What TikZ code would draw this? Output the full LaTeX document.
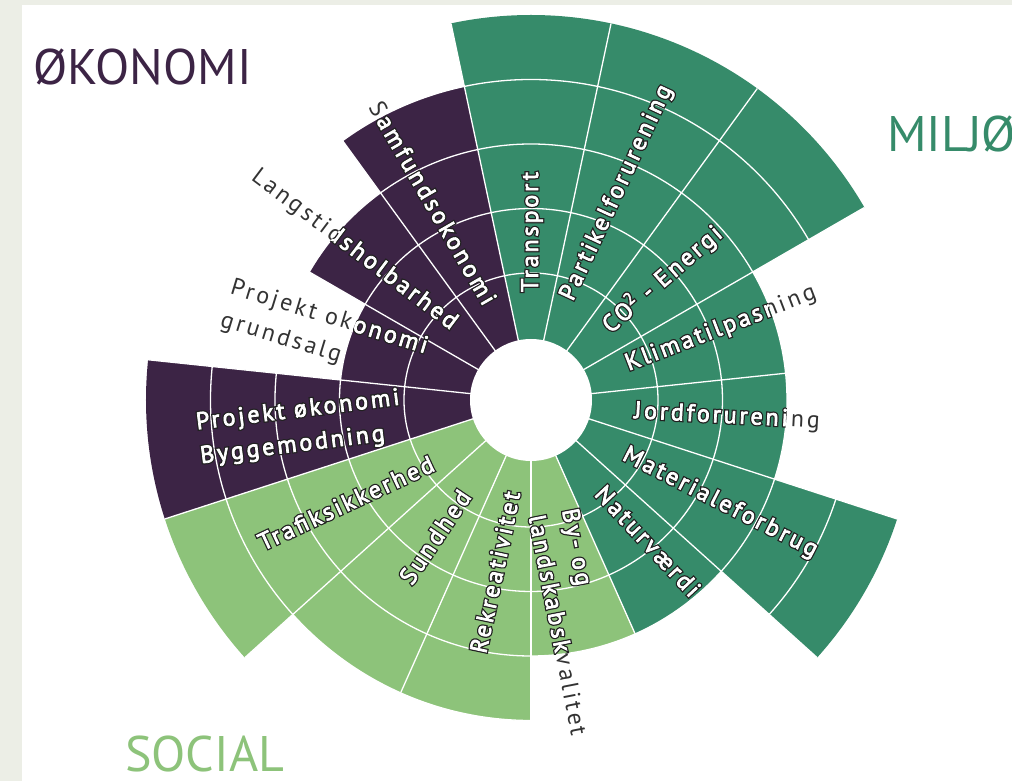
\documentclass[tikz,border=0pt]{standalone}
\usepackage{fontspec}
\setmainfont{PT Sans}
\newfontfamily\lblfont[LetterSpace=12]{PT Sans}
\newfontfamily\lblboldfont[LetterSpace=12, FakeBold=3]{PT Sans}
\newfontfamily\ttlfont{PT Sans}
\definecolor{frame}{HTML}{ECEEE6}
\definecolor{econ}{HTML}{3C2445}
\definecolor{envg}{HTML}{368B6A}
\definecolor{socg}{HTML}{8DC37A}
\definecolor{txt}{HTML}{333333}
\newcommand\plainw[1]{#1}
% stroke-only copy of a text (dark outline)
\newcommand\strokew[1]{\special{pdf:literal direct 1 Tr 3.2 w 0.13 0.13 0.13 RG}#1\special{pdf:literal direct 0 Tr}}
\newcommand\putlabels[3]{%
  \node[#1, rotate=90]  (transport#2) at (1,168)     {#3{Transport}};
  \node[#1, rotate=65]  (partikel#2)  at (86,207)    {#3{Partikelforurening}};
  \node[#1, rotate=41]  (co2#2)       at (131,121)   {#3{CO\textsuperscript{2} - Energi}};
  \node[#1, rotate=21]  (klima#2)     at (190,71)    {#3{Klimatilpasning}};
  \node[#1, rotate=-3]  (jord#2)      at (196,-17)   {#3{Jordforurening}};
  \node[#1, rotate=-27] (materiale#2) at (189,-103)  {#3{Materialeforbrug}};
  \node[#1, rotate=-47] (natur#2)     at (117,-141)  {#3{Naturværdi}};
  \node[#1, rotate=-79] (byog#2)      at (44,-222)   {#3{By- og}\\#3{landskabskvalitet}};
  \node[#1, rotate=78]  (rekreat#2)   at (-36,-172)  {#3{Rekreativitet}};
  \node[#1, rotate=56]  (sundhed#2)   at (-96,-137)  {#3{Sundhed}};
  \node[#1, rotate=25]  (trafik#2)    at (-185,-103) {#3{Trafiksikkerhed}};
  \node[#1, rotate=7]   (bygge#2)     at (-231,-28)  {#3{Projekt økonomi}\\#3{Byggemodning}};
  \node[#1, rotate=-17] (grund#2)     at (-207,66)   {#3{Projekt okonomi}\\#3{grundsalg}};
  \node[#1, rotate=-37] (langsigt#2)  at (-177,150)  {#3{Langstidsholbarhed}};
  \node[#1, rotate=-60] (samfund#2)   at (-98,197)   {#3{Samfundsokonomi}};
}
\tikzset{
  lbl/.style={font=\lblfont\fontsize{24}{34}\selectfont, text=txt, inner sep=0pt, align=left},
  lbls/.style={lbl, text=white},
  lblw/.style={lbl, font=\lblboldfont\fontsize{24}{34}\selectfont, text=white},
  ttl/.style={font=\ttlfont\fontsize{50}{60}\selectfont, inner sep=0pt, anchor=base west},
  sepline/.style={draw=white, line width=1.3pt},
}
\begin{document}
\begin{tikzpicture}[x=1pt,y=1pt]
\useasboundingbox (-531,-381) rectangle (481,400);
\fill[frame] (-531,-381) rectangle (481,400);
\fill[white] (-509,-381) rectangle (481,395);
% sectors
\foreach \i/\lev/\col in {0/5/envg,1/5/envg,2/5/envg,3/3/envg,4/3/envg,5/5/envg,6/3/envg,
  7/3/socg,8/4/socg,9/4/socg,10/5/socg,11/5/econ,12/2/econ,13/3/econ,14/4/econ}{
  \fill[\col] (0,0) -- ({78-24*\i}:{62.5+64.5*\lev})
     arc[start angle={78-24*\i}, delta angle=24, radius={62.5+64.5*\lev}] -- cycle;
}
% ring and radial separators
\foreach \k in {1,...,4}{
  \draw[sepline] (0,0) circle[radius={62.5+64.5*\k}];
}
\foreach \i in {0,...,14}{
  \draw[sepline] (0,0) -- ({78-24*\i}:385);
}
\fill[white] (0,0) circle[radius=61];
% labels: dark text everywhere
\putlabels{lbl}{}{\plainw}
% labels: white outlined text inside the sectors
\begin{scope}
  \clip foreach \i/\lev in {0/5,1/5,2/5,3/3,4/3,5/5,6/3,7/3,8/4,9/4,10/5,11/5,12/2,13/3,14/4}{
    (0,0) -- ({78-24*\i}:{62.5+64.5*\lev})
     arc[start angle={78-24*\i}, delta angle=24, radius={62.5+64.5*\lev}] -- cycle };
  \putlabels{lbls}{s}{\strokew}
  \putlabels{lblw}{w}{\plainw}
\end{scope}
% titles
\node[ttl, text=econ] (okonomi) at (-498,315) {ØKONOMI};
\node[ttl, text=envg] (miljo) at (356,248) {MILJØ};
\node[ttl, text=socg] (social) at (-406,-371) {SOCIAL};
\end{tikzpicture}
\end{document}
